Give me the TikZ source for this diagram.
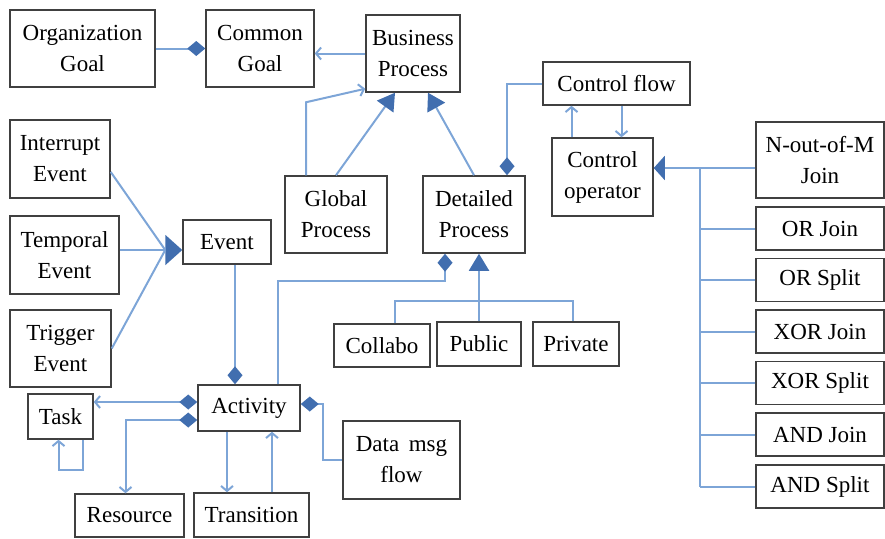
\documentclass[tikz,border=0pt]{standalone}
\usepackage{fontspec}
\setmainfont{Liberation Serif}
\usetikzlibrary{arrows.meta,calc}
\definecolor{LineClr}{rgb}{0.49,0.647,0.843}
\definecolor{MarkClr}{rgb}{0.255,0.431,0.686}
\definecolor{BoxClr}{rgb}{0.25,0.25,0.25}

\begin{document}
\begin{tikzpicture}[x=1pt,y=-1pt,
  box/.style={draw=BoxClr,line width=1.5pt,align=center,inner sep=2pt,font=\fontsize{23}{31}\selectfont},
  sz/.style 2 args={minimum width=#1,minimum height=#2},
  link/.style={draw=LineClr,line width=2pt},
  AggTip/.tip={Diamond[length=18pt,width=15pt,color=MarkClr]},
  GenTip/.tip={Triangle[length=17pt,width=20pt,color=MarkClr]},
  FlowTip/.tip={Straight Barb[length=5pt,width=12pt]}]
\useasboundingbox (0,0) rectangle (885,538);

\node[box,sz={145}{77}] (orggoal) at (82.5,48.5) {Organization\\Goal};
\node[box,sz={108}{77}] (comgoal) at (260,48.5) {Common\\Goal};
\node[box,sz={94}{77}] (busproc) at (413,53.5) {Business\\Process};
\node[box,sz={147}{43}] (ctrlflow) at (616.5,83.5) {Control flow};
\node[box,sz={101}{78}] (ctrlop) at (602.5,177) {Control\\operator};
\node[box,sz={128}{76}] (nofm) at (820,160) {N-out-of-M\\Join};
\foreach \nm/\yy/\txt in {orjoin/228.5/OR Join,orsplit/280/OR Split,xorjoin/331.5/XOR Join,
  xorsplit/383/XOR Split,andjoin/434.5/AND Join,andsplit/486.5/AND Split}
  \node[box,sz={128}{43}] (\nm) at (820,\yy) {\txt};

\node[box,sz={100}{78}] (intev) at (60,159) {Interrupt\\Event};
\node[box,sz={109}{78}] (tempev) at (64.5,255) {Temporal\\Event};
\node[box,sz={101}{77}] (trigev) at (60.5,348.5) {Trigger\\Event};
\node[box,sz={88}{44}] (event) at (227,242) {Event};
\node[box,sz={102}{77}] (globproc) at (336,214.5) {Global\\Process};
\node[box,sz={102}{77}] (detproc) at (474,214.5) {Detailed\\Process};
\node[box,sz={96}{43}] (collabo) at (382,345.5) {Collabo};
\node[box,sz={84}{44}] (public) at (479,344) {Public};
\node[box,sz={86}{44}] (private) at (576,344) {Private};

\node[box,sz={102}{46}] (activity) at (249,408) {Activity};
\node[box,sz={65}{45}] (task) at (60.5,416.5) {Task};
\node[box,sz={109}{43}] (resource) at (129.5,515.5) {Resource};
\node[box,sz={115}{44}] (transition) at (251.5,515) {Transition};
\node[box,sz={117}{78}] (datamsg) at (401.5,460) {Data\, msg\\flow};

\draw[link,-AggTip] (orggoal) -- (comgoal);
\draw[link,-FlowTip] (busproc.west) -- (busproc.west -| comgoal.east);
\draw[link,-FlowTip] ([xshift=-30pt]globproc.north) -- ++(0,-73) -- ([yshift=4pt]busproc.south west);
\draw[link,-GenTip] (globproc.north) -- ([xshift=-18pt]busproc.south);
\draw[link,-GenTip] (detproc.north) -- ([xshift=15pt]busproc.south);
\draw[link,AggTip-] ([xshift=33pt]detproc.north) |- (ctrlflow.west);
\draw[link,-FlowTip] ([xshift=-31pt]ctrlop.north) -- ([xshift=-31pt]ctrlop.north |- ctrlflow.south);
\draw[link,-FlowTip] ([xshift=19pt]ctrlop.north |- ctrlflow.south) -- ([xshift=19pt]ctrlop.north);

\coordinate (bus) at (700,168);
\draw[link,-{Triangle[length=11pt,width=24pt,color=MarkClr]}] ([yshift=-8pt]nofm.west) -- ([yshift=-8pt]nofm.west -| ctrlop.east);
\draw[link] (bus) -- (bus |- andsplit.west);
\foreach \nm in {orjoin,orsplit,xorjoin,xorsplit,andjoin,andsplit}
  \draw[link] (\nm.west) -- (\nm.west -| bus);

\coordinate (evtip) at ([yshift=-8pt]event.west);
\coordinate (evin) at ([xshift=-17pt]evtip);
\draw[link,-{Triangle[length=17pt,width=30pt,color=MarkClr]}] (evtip -| tempev.east) -- (evtip);
\draw[link] ([yshift=-13pt]intev.east) -- (evin);
\draw[link] (trigev.east) -- (evin);
\draw[link,-AggTip] ([xshift=8pt]event.south) -- ([xshift=8pt]event.south |- activity.north);

\draw[link,AggTip-] ([xshift=-29pt]detproc.south) -- ++(0,27) -| ([xshift=29pt]activity.north);
\draw[link,-GenTip] (public.north) -- (public.north |- detproc.south);
\draw[link] ([xshift=13pt]collabo.north) -- ++(0,-22) -| ([xshift=-3pt]private.north);

\draw[link,AggTip-FlowTip] ([yshift=6pt]activity.west) -- ([yshift=6pt]activity.west -| task.east);
\draw[link,AggTip-FlowTip] ([yshift=-12pt]activity.west) -| ([xshift=-4pt]resource.north);
\draw[link,-FlowTip] ([xshift=22pt]task.south) -- ++(0,30) -| ([xshift=-2pt]task.south);
\draw[link,-FlowTip] ([xshift=-22pt]activity.south) -- ([xshift=-22pt]activity.south |- transition.north);
\draw[link,-FlowTip] ([xshift=23pt]activity.south |- transition.north) -- ([xshift=23pt]activity.south);
\draw[link,AggTip-] ([yshift=4pt]activity.east) -- ++(22,0) |- (datamsg.west);
\end{tikzpicture}
\end{document}
